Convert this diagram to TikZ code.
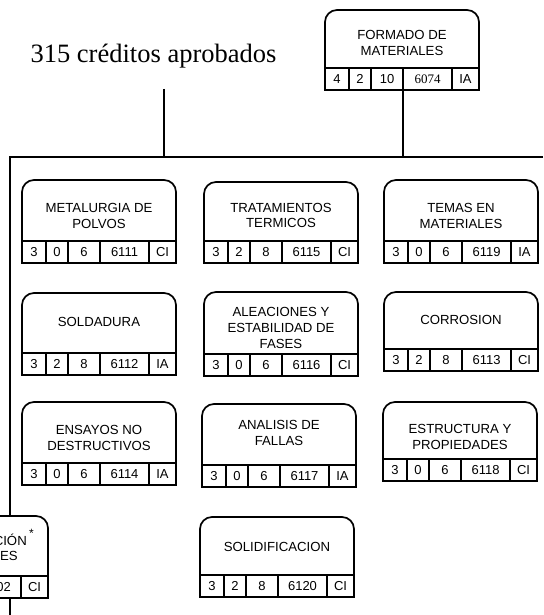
\documentclass[tikz,border=0pt]{standalone}
\usepackage{fontspec}
\setmainfont{Liberation Serif}
\newfontfamily\arialfont{Liberation Sans}

\tikzset{
  curso/.style={line width=1.7pt, rounded corners=12pt, fill=white},
  celda/.style={draw, fill=white, line width=1.7pt, anchor=north west, inner sep=0pt, outer sep=0pt,
                minimum height=22pt, font=\arialfont\fontsize{13}{15}\selectfont},
  titulo/.style={align=center, inner sep=0pt, font=\arialfont\fontsize{13.2}{15.7}\selectfont},
  enlace/.style={line width=1.7pt}
}

\newcommand{\curso}[7]{%
  \draw[curso] (#2,#4) -- (#2,#3) -- (#2+154,#3) -- (#2+154,#4);
  \node[titulo] (#1) at (#2+77,#5) {#6};
  \foreach \ca/\cb/\cc/\cd/\ce in {#7}{
    \node[celda, minimum width=24pt] (#1-1) at (#2,#4)           {\ca};
    \node[celda, minimum width=22pt] (#1-2) at (#1-1.north east) {\cb};
    \node[celda, minimum width=32pt] (#1-3) at (#1-2.north east) {\cc};
    \node[celda, minimum width=49pt] (#1-4) at (#1-3.north east) {\cd};
    \node[celda, minimum width=27pt] (#1-5) at (#1-4.north east) {\ce};
  }
}

\begin{document}
\begin{tikzpicture}[x=1pt, y=-1pt]
  \useasboundingbox (0,0) rectangle (543,615);
  \clip (0,0) rectangle (543,615);
  \coordinate (busL)  at (10,157);
  \coordinate (busR)  at (543,157);
  \coordinate (lbl)   at (164,89);
  \coordinate (fondo) at (10,615);
  \node[font=\fontsize{26.5}{30}\selectfont, anchor=base] (creditos) at (153.5,63) {315 créditos aprobados};
  \curso{formado}{325}{10}{68}{43}{FORMADO DE\\MATERIALES}{4/2/10/{\rmfamily 6074}/IA}
  \draw[enlace] (formado-3.south east) -- (formado-3.south east |- busL);
  \draw[enlace] (lbl) -- (lbl |- busL);
  \draw[enlace] (busR) -- (busL) -- (fondo);
  \curso{metalurgia}    {22}  {180}{241}{216}  {METALURGIA DE\\POLVOS}{3/0/6/6111/CI}
  \curso{tratamientos}  {204} {182}{241}{215.5}{TRATAMIENTOS\\TERMICOS}{3/2/8/6115/CI}
  \curso{temas}         {384} {180}{241}{216}  {TEMAS EN\\MATERIALES}{3/0/6/6119/IA}
  \curso{soldadura}     {22}  {293}{353}{322}  {SOLDADURA}{3/2/8/6112/IA}
  \curso{aleaciones}    {204} {292}{354}{328}  {ALEACIONES Y\\ESTABILIDAD DE\\FASES}{3/0/6/6116/CI}
  \curso{corrosion}     {384} {292}{349}{320}  {CORROSION}{3/2/8/6113/CI}
  \curso{ensayos}       {22}  {402}{463}{438}  {ENSAYOS NO\\DESTRUCTIVOS}{3/0/6/6114/IA}
  \curso{analisis}      {202} {404}{465}{433}  {ANALISIS DE\\FALLAS}{3/0/6/6117/IA}
  \curso{estructura}    {383} {402}{459}{437}  {ESTRUCTURA Y\\PROPIEDADES}{3/0/6/6118/CI}
  \curso{intro}         {-106}{516}{576}{546}  {}{{}/{}/{}/\phantom{61}02/CI}
  \curso{solidificacion}{200} {517}{575}{547}  {SOLIDIFICACION}{3/2/8/6120/CI}
  \node[titulo, anchor=base east] (intro-a) at (27,545) {CIÓN};
  \node[titulo, anchor=base east] (intro-b) at (18,560) {LES};
  \node[titulo, anchor=base west, font=\arialfont\fontsize{12}{12}\selectfont] (intro-ast) at (29,537) {*};
\end{tikzpicture}
\end{document}
